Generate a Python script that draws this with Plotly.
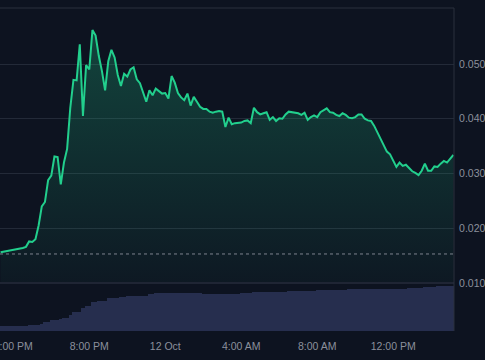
import pandas as pd
import plotly.graph_objects as go

# ---- data ----
start_time = "2024-10-11 15:20"
interval = "10min"

prices = [
    0.0156, 0.0157, 0.0158, 0.0159, 0.0160, 0.0161, 0.0162, 0.0164, 0.0166, 0.0176,
    0.0175, 0.0180, 0.0205, 0.0240, 0.0248, 0.0288, 0.0296, 0.0331, 0.0330, 0.0280,
    0.0320, 0.0345, 0.0420, 0.0471, 0.0470, 0.0536, 0.0405, 0.0498, 0.0490, 0.0562,
    0.0552, 0.0515, 0.0487, 0.0452, 0.0505, 0.0526, 0.0512, 0.0480, 0.0460, 0.0482,
    0.0477, 0.0490, 0.0494, 0.0472, 0.0465, 0.0447, 0.0431, 0.0452, 0.0443, 0.0455,
    0.0451, 0.0446, 0.0447, 0.0437, 0.0478, 0.0466, 0.0447, 0.0439, 0.0434, 0.0446,
    0.0424, 0.0440, 0.0431, 0.0422, 0.0418, 0.0418, 0.0413, 0.0411, 0.0413, 0.0414,
    0.0413, 0.0385, 0.0402, 0.0390, 0.0392, 0.0392, 0.0393, 0.0396, 0.0397, 0.0392,
    0.0420, 0.0412, 0.0408, 0.0410, 0.0412, 0.0398, 0.0403, 0.0396, 0.0401, 0.0400,
    0.0408, 0.0413, 0.0412, 0.0411, 0.0410, 0.0407, 0.0411, 0.0398, 0.0403, 0.0406,
    0.0403, 0.0412, 0.0416, 0.0419, 0.0412, 0.0411, 0.0407, 0.0405, 0.0410, 0.0407,
    0.0402, 0.0401, 0.0403, 0.0408, 0.0408, 0.0400, 0.0397, 0.0396, 0.0387, 0.0375,
    0.0362, 0.0352, 0.0340, 0.0335, 0.0322, 0.0312, 0.0320, 0.0314, 0.0316, 0.0309,
    0.0304, 0.0301, 0.0297, 0.0305, 0.0318, 0.0305, 0.0305, 0.0313, 0.0312, 0.0318,
    0.0323, 0.0320, 0.0328, 0.0334,
]

volumes = [
    5.3, 5.3, 5.3, 5.3, 5.3, 5.3, 5.3, 5.3, 5.3, 6.3,
    6.3, 6.3, 6.3, 7.3, 8.7, 8.7, 10.7, 10.7, 10.7, 11.7,
    13.3, 13.3, 16.0, 19.3, 19.3, 19.3, 22.7, 25.3, 25.3, 28.7,
    28.7, 30.3, 30.3, 30.3, 32.7, 32.7, 32.7, 32.7, 33.7, 33.7,
    35.3, 35.3, 35.3, 35.3, 35.3, 35.3, 35.3, 37.3, 37.5, 37.7,
    37.7, 37.7, 37.7, 37.7, 37.7, 37.7, 37.7, 37.7, 37.7, 37.7,
    37.7, 37.7, 37.7, 37.7, 37.0, 37.0, 37.0, 37.0, 37.0, 37.0,
    37.0, 37.0, 37.0, 37.0, 37.0, 37.0, 38.3, 38.3, 38.3, 38.3,
    39.3, 39.3, 39.3, 39.3, 39.3, 39.3, 39.3, 39.3, 39.3, 39.3,
    39.3, 40.3, 40.3, 40.3, 40.3, 40.3, 40.3, 40.3, 40.3, 40.3,
    41.0, 41.0, 41.0, 41.0, 41.0, 41.0, 41.0, 41.0, 41.0, 41.0,
    42.0, 42.0, 42.0, 42.0, 42.0, 42.0, 42.0, 42.0, 42.0, 42.0,
    42.0, 42.0, 42.0, 42.0, 42.0, 42.0, 42.0, 42.0, 42.0, 42.7,
    42.7, 42.7, 42.7, 42.7, 44.0, 44.0, 44.0, 44.0, 45.0, 45.0,
    45.0, 45.0, 45.0, 45.0,
]

ref_price = 0.0153

x_range = ["2024-10-11 15:18", "2024-10-12 15:12"]
x_tick_vals = ["2024-10-11 16:00", "2024-10-11 20:00", "2024-10-12 00:00",
               "2024-10-12 04:00", "2024-10-12 08:00", "2024-10-12 12:00"]
x_tick_text = ["4:00 PM", "8:00 PM", "12 Oct", "4:00 AM", "8:00 AM", "12:00 PM"]
y_tick_vals = [0.010, 0.020, 0.030, 0.040, 0.050]
y_tick_text = ["0.010", "0.020", "0.030", "0.040", "0.050"]

times = pd.date_range(start_time, periods=len(prices), freq=interval)

# ---- styling ----
BG = "#0d1320"
LINE = "#22cf8d"
GRID = "#232a38"
TXT = "#8b909c"
VOL = "#262e4e"
FS = 10.5

vol_top = 48 / 323.0

fig = go.Figure()

fig.add_trace(go.Bar(
    x=times, y=volumes, xaxis="x", yaxis="y2",
    marker=dict(color=VOL, line=dict(width=0)),
    hoverinfo="skip", showlegend=False,
))

fig.add_trace(go.Scatter(
    x=times, y=prices, xaxis="x", yaxis="y",
    mode="lines", line=dict(color=LINE, width=2),
    fill="tozeroy",
    fillgradient=dict(
        type="vertical", start=0.010, stop=0.056,
        colorscale=[[0, "rgba(34,207,141,0.03)"], [1, "rgba(34,207,141,0.26)"]],
    ),
    showlegend=False,
))

fig.update_layout(
    width=485, height=360,
    margin=dict(l=0, r=31, t=8, b=29, autoexpand=False),
    paper_bgcolor=BG, plot_bgcolor=BG,
    font=dict(family="Liberation Sans, Arial, sans-serif", size=FS, color=TXT),
    bargap=0,
    showlegend=False,
    xaxis=dict(
        type="date", range=x_range, anchor="y2", automargin=False,
        tickvals=x_tick_vals, ticktext=x_tick_text,
        ticklabeloverflow="allow",
        showgrid=False, zeroline=False, showline=False,
        ticks="outside", ticklen=5, tickcolor=BG,
        tickfont=dict(size=FS, color=TXT),
    ),
    yaxis=dict(
        domain=[vol_top, 1], range=[0.010, 0.06023], side="right", automargin=False,
        tickvals=y_tick_vals, ticktext=y_tick_text,
        ticklabeloverflow="allow",
        showgrid=True, gridcolor=GRID, gridwidth=1,
        zeroline=False, showline=False,
        ticks="outside", ticklen=2, tickcolor=BG,
        tickfont=dict(size=FS, color=TXT),
    ),
    yaxis2=dict(
        domain=[0, vol_top], range=[0, 48], anchor="x", automargin=False,
        showgrid=False, zeroline=False, showline=False,
        showticklabels=False, ticks="",
    ),
    shapes=[
        dict(type="line", xref="paper", yref="y", x0=0, x1=1, y0=ref_price, y1=ref_price,
             line=dict(color="#7d828e", width=1, dash="dot")),
        dict(type="line", xref="paper", yref="paper", x0=0, x1=1, y0=vol_top, y1=vol_top,
             line=dict(color="#1f2534", width=2)),
        dict(type="line", xref="paper", yref="paper", x0=0, x1=1, y0=1, y1=1,
             line=dict(color="#2a303d", width=1)),
        dict(type="line", xref="paper", yref="paper", x0=1, x1=1, y0=0, y1=1,
             line=dict(color="#2a303d", width=1)),
    ],
)

fig.write_html("out.html")
